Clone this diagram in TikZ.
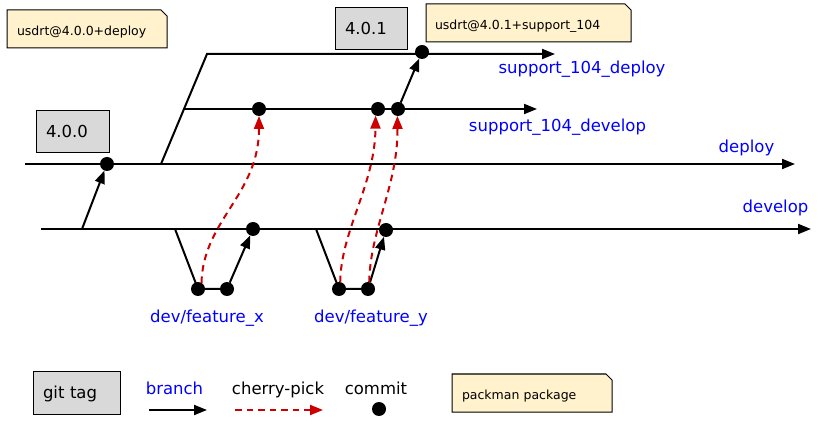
\documentclass[tikz,border=0pt]{standalone}
\usepackage{fontspec}
\setmainfont{DejaVu Sans}
\usetikzlibrary{arrows.meta,backgrounds}
\definecolor{notefill}{HTML}{FFF2CC}
\definecolor{tagfill}{HTML}{D9D9D9}
\definecolor{cpred}{HTML}{CC0000}
\definecolor{brblue}{HTML}{0000FF}
\begin{document}
\begin{tikzpicture}[x=1pt,y=-1pt,
  commit/.style={circle,fill=black,inner sep=0pt,outer sep=0pt,minimum size=14pt},
  branchline/.style={line width=2pt,black},
  branchto/.style={branchline,-{Triangle[length=13pt,width=10pt]}},
  cherry/.style={line width=2pt,cpred,dash pattern=on 6.5pt off 5pt,-{Triangle[length=13pt,width=10pt]}},
  tagbox/.style={draw=black,line width=1pt,fill=tagfill,font=\fontsize{16.5}{19}\selectfont,
    text height=12pt,text depth=0pt,align=left,inner xsep=10pt,inner ysep=0pt,outer sep=0pt},
  notetext/.style={font=\fontsize{12.5}{15}\selectfont,text height=13.5pt,text depth=0pt,
    align=left,inner ysep=0pt,outer sep=0pt},
  noteshape/.style={draw=black,line width=1pt,fill=notefill},
  brlabel/.style={text=brblue,font=\fontsize{16.5}{19}\selectfont,anchor=base,inner sep=0pt},
  plainlabel/.style={text=black,font=\fontsize{16.5}{19}\selectfont,anchor=base,inner sep=0pt}
]
\useasboundingbox (0,0) rectangle (835,427);

% tags
\node[tagbox,text width=53pt,minimum height=42pt] (t400) at (72.5,132) {4.0.0};
\node[tagbox,text width=52pt,minimum height=42pt] (t401) at (371,29) {4.0.1};
\node[tagbox,text width=67pt,minimum height=42pt] (tgit) at (76.5,393) {git tag};

% notes
\node[notetext,inner xsep=10pt,text width=140pt,minimum height=38pt] (n1) at (87,29) {usdrt@4.0.0+deploy};
\node[notetext,inner xsep=9pt,text width=187pt,minimum height=38pt] (n2) at (528.5,23) {usdrt@4.0.1+support\_104};
\node[notetext,inner xsep=10pt,text width=140pt,minimum height=38pt] (n3) at (532,393) {packman package};
\begin{scope}[on background layer]
\foreach \n in {n1,n2,n3}{
  \draw[noteshape] (\n.south west) -- (\n.north west) -- ([xshift=-6pt]\n.north east)
    -- ([yshift=-6pt]\n.north east) -- (\n.south east) -- cycle;
}
\end{scope}

% commits
\node[commit] (c400) at (107,164) {};
\node[commit] (s1) at (259,109) {};
\node[commit] (s2) at (378,109) {};
\node[commit] (s3) at (398,109) {};
\node[commit] (sd) at (422,52) {};
\node[commit] (d1) at (253,229) {};
\node[commit] (d2) at (386,230) {};
\node[commit] (fx1) at (198,289) {};
\node[commit] (fx2) at (227,289) {};
\node[commit] (fy1) at (339,289) {};
\node[commit] (fy2) at (368,289) {};
\node[commit] (lgc) at (379,409) {};

% branch coordinates
\coordinate (dep0) at (25,164);
\coordinate (dep1) at (795,164);
\coordinate (dev0) at (41,229);
\coordinate (dev1) at (811,229);
\coordinate (forkS) at (161,164);
\coordinate (bendS) at (207,54);
\coordinate (sdep1) at (555,54);
\coordinate (sdev0) at (184,109);
\coordinate (sdev1) at (537,109);
\coordinate (tag0) at (82,229);
\coordinate (fxo) at (175,229);
\coordinate (fyo) at (316,229);
\coordinate (lb0) at (149,410);
\coordinate (lb1) at (207,410);
\coordinate (lc0) at (235,410);
\coordinate (lc1) at (323,410);

\begin{scope}[on background layer]
\draw[branchto] (dep0) -- (dep1);
\draw[branchto] (dev0) -- (dev1);
\draw[branchto] (forkS) -- (bendS) -- (sdep1);
\draw[branchto] (sdev0) -- (sdev1);
\draw[branchline] (fxo) -- (fx1.center) -- (fx2.center);
\draw[branchline] (fyo) -- (fy1.center) -- (fy2.center);
\end{scope}

\draw[branchto] (tag0) -- (c400);
\draw[branchto] (fx2) -- (d1);
\draw[branchto] (fy2) -- (d2);
\draw[branchto] (s3) -- (sd);

% cherry-picks
\draw[cherry] (fx1.60) .. controls (203,220) and (259,195) .. (s1.south);
\draw[cherry] (fy1.80) .. controls (341,230) and (375,185) .. (s2.250);
\draw[cherry] (fy2.80) .. controls (370,230) and (398,185) .. (s3.265);

% labels
\node[brlabel] (ldeploy) at (746.5,153) {deploy};
\node[brlabel] (ldevelop) at (775.5,213) {develop};
\node[brlabel] (lsdep) at (582,74) {support\_104\_deploy};
\node[brlabel] (lsdev) at (557.5,132) {support\_104\_develop};
\node[brlabel] (lfx) at (207,323) {dev/feature\_x};
\node[brlabel] (lfy) at (371,323) {dev/feature\_y};

% legend
\node[brlabel] (lgbranch) at (174.5,395) {branch};
\node[plainlabel] (lgcherry) at (278,395) {cherry-pick};
\node[plainlabel] (lgcommit) at (376,395) {commit};
\draw[branchto] (lb0) -- (lb1);
\draw[cherry] (lc0) -- (lc1);
\end{tikzpicture}
\end{document}
